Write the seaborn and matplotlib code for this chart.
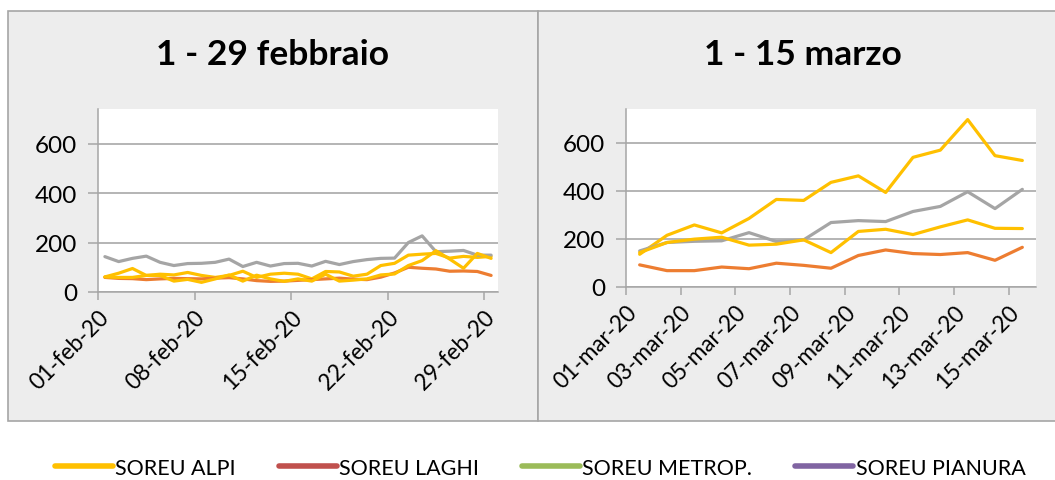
import matplotlib
matplotlib.use("Agg")
import matplotlib.pyplot as plt
from matplotlib.patches import Rectangle
from matplotlib.lines import Line2D
import seaborn as sns
import pandas as pd
import numpy as np

# ---- data ----
series_names = ["SOREU ALPI", "SOREU LAGHI", "SOREU METROP.", "SOREU PIANURA"]
legend_colors = ["#FFC000", "#C0504D", "#9BBB59", "#8064A2"]
line_colors = ["#FFC000", "#ED7D31", "#A5A5A5", "#FFC000"]

feb_alpi = [61, 76, 95, 67, 72, 69, 79, 67, 59, 67, 84, 59, 72, 76, 72, 53, 83, 81, 64, 72,
            107, 116, 149, 153, 156, 137, 144, 140, 144]
feb_laghi = [59, 55, 54, 50, 53, 55, 54, 53, 56, 58, 53, 46, 43, 44, 47, 50, 53, 56, 52, 50,
             60, 77, 100, 96, 93, 84, 85, 83, 67]
feb_metrop = [143, 123, 136, 145, 120, 107, 115, 116, 120, 133, 103, 120, 105, 115, 116, 105,
              124, 111, 123, 131, 136, 137, 200, 227, 163, 165, 168, 149, 149]
feb_pianura = [61, 59, 59, 67, 67, 44, 51, 39, 53, 69, 44, 68, 53, 43, 53, 44, 72, 44, 48, 53,
               69, 73, 107, 127, 167, 133, 96, 156, 136]

mar_alpi = [136, 215, 258, 225, 285, 364, 360, 435, 462, 393, 539, 569, 696, 546, 526]
mar_laghi = [92, 68, 68, 83, 76, 99, 90, 78, 131, 154, 139, 135, 143, 111, 165]
mar_metrop = [150, 185, 190, 192, 226, 189, 196, 268, 276, 272, 314, 335, 396, 326, 406]
mar_pianura = [143, 185, 199, 207, 174, 178, 196, 143, 231, 240, 218, 250, 279, 244, 243]

feb_ticklabels = ["01-feb-20", "08-feb-20", "15-feb-20", "22-feb-20", "29-feb-20"]
mar_ticklabels = ["01-mar-20", "03-mar-20", "05-mar-20", "07-mar-20",
                  "09-mar-20", "11-mar-20", "13-mar-20", "15-mar-20"]
titles = ["1 - 29 febbraio", "1 - 15 marzo"]
yticks = [0, 200, 400, 600]

sns.set_theme(style="white")
plt.rcParams["font.family"] = ["Lato", "DejaVu Sans"]
plt.rcParams["text.color"] = "black"

W, H = 1055, 481
fig = plt.figure(figsize=(W / 100, H / 100), dpi=100)
fig.patch.set_facecolor("white")

def fx(px):
    return px / W

def fy(py):
    return 1 - py / H

panel_bg = "#EDEDED"
panel_edge = "#A6A6A6"
fig.patches.append(Rectangle((fx(8), fy(422)), fx(538 - 8), fy(12) - fy(422),
                             transform=fig.transFigure, facecolor=panel_bg,
                             edgecolor=panel_edge, lw=1.2, zorder=-5))
fig.patches.append(Rectangle((fx(538), fy(422)), fx(1060 - 538), fy(12) - fy(422),
                             transform=fig.transFigure, facecolor=panel_bg,
                             edgecolor=panel_edge, lw=1.2, zorder=-5))

def make_df(vals_list):
    rows = []
    for name, vals in zip(series_names, vals_list):
        for i, v in enumerate(vals):
            rows.append({"day": i + 0.5, "value": v, "series": name})
    return pd.DataFrame(rows)

df_feb = make_df([feb_alpi, feb_laghi, feb_metrop, feb_pianura])
df_mar = make_df([mar_alpi, mar_laghi, mar_metrop, mar_pianura])

palette = dict(zip(series_names, line_colors))

ax1 = fig.add_axes([fx(98), fy(293), fx(498 - 98), fy(110) - fy(293)])
ax2 = fig.add_axes([fx(626), fy(288), fx(1036 - 626), fy(110) - fy(288)])

configs = [
    (ax1, df_feb, 29, [0, 7, 14, 21, 28], feb_ticklabels, titles[0], 272),
    (ax2, df_mar, 15, list(range(0, 15, 2)), mar_ticklabels, titles[1], 803),
]

for ax, df, ndays, ticks, labels, title, tx in configs:
    sns.lineplot(data=df, x="day", y="value", hue="series", palette=palette,
                 hue_order=series_names, linewidth=2.3, ax=ax, legend=False,
                 estimator=None, sort=False)
    ax.set_facecolor("white")
    ax.set_xlim(0, ndays)
    ax.set_ylim(0, 740)
    ax.set_yticks(yticks)
    ax.set_yticklabels([str(v) for v in yticks], fontsize=17.5, color="black")
    ax.set_xticks(ticks)
    ax.set_xticklabels(labels, rotation=45, ha="right", va="top",
                       rotation_mode="anchor", fontsize=16.3, color="black")
    ax.grid(axis="y", color="#A0A0A0", lw=1.1)
    ax.set_axisbelow(True)
    for s in ["top", "right"]:
        ax.spines[s].set_visible(False)
    ax.spines["left"].set_color("#A6A6A6")
    ax.spines["bottom"].set_color("#A6A6A6")
    ax.spines["left"].set_linewidth(1.1)
    ax.spines["bottom"].set_linewidth(1.1)
    ax.tick_params(axis="x", direction="out", length=6, width=1.1, color="#A6A6A6",
                   bottom=True, pad=4)
    ax.tick_params(axis="y", direction="out", length=7, width=1.1, color="#A6A6A6",
                   left=True, pad=8)
    ax.set_xlabel("")
    ax.set_ylabel("")
    fig.text(fx(tx), fy(55), title, ha="center", va="center", fontsize=25.5,
             fontweight="bold", color="black")

handles = [Line2D([0], [0], color=c, lw=4) for c in legend_colors]
leg = fig.legend(handles, series_names, loc="center", bbox_to_anchor=(fx(540), fy(469)),
                 ncol=4, frameon=False, fontsize=15.5, handlelength=2.7, handletextpad=0.1,
                 columnspacing=2.0)
for t in leg.get_texts():
    t.set_color("black")

fig.savefig("out.png", dpi=100, facecolor="white")
